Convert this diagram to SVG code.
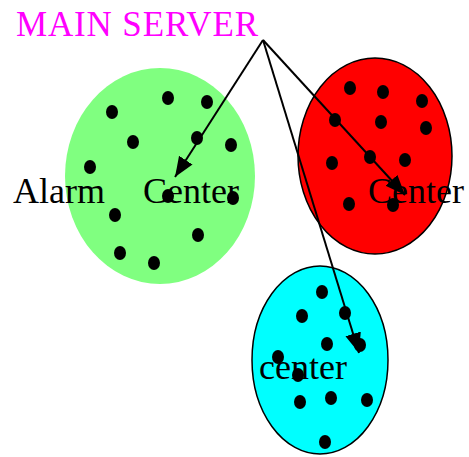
<svg xmlns="http://www.w3.org/2000/svg" width="469" height="457" viewBox="0 0 469 457">
  <style>
    .label { font-family: "Liberation Serif", "Times New Roman", serif; font-size: 36px; fill: #000; }
    .title { font-family: "Liberation Serif", "Times New Roman", serif; font-size: 35px; fill: #ff00ff; }
    .dot { fill: #000; }
    .link { stroke: #000; stroke-width: 2; fill: none; marker-end: url(#arrow); }
  </style>
  <defs>
    <marker id="arrow" markerUnits="userSpaceOnUse" markerWidth="22" markerHeight="18" refX="20" refY="8" orient="auto">
      <path d="M0,0 L20,8 L0,16 z" fill="#000"/>
    </marker>
    <ellipse id="d" class="dot" rx="6" ry="7"/>
  </defs>
  <rect width="469" height="457" fill="#fff"/>

  <g id="main-server">
    <text class="title" x="16" y="36" textLength="242" lengthAdjust="spacing">MAIN SERVER</text>
  </g>

  <g id="alarm-center">
    <ellipse cx="160" cy="176" rx="95" ry="108" fill="#80ff80"/>
    <text class="label" x="13" y="203">Alarm</text>
    <text class="label" x="143" y="203">Center</text>
    <use href="#d" x="112" y="112"/>
    <use href="#d" x="168" y="98"/>
    <use href="#d" x="207" y="102"/>
    <use href="#d" x="133" y="142"/>
    <use href="#d" x="197" y="138"/>
    <use href="#d" x="231" y="145"/>
    <use href="#d" x="90" y="167"/>
    <use href="#d" x="168" y="196"/>
    <use href="#d" x="233" y="198"/>
    <use href="#d" x="115" y="215"/>
    <use href="#d" x="198" y="235"/>
    <use href="#d" x="120" y="253"/>
    <use href="#d" x="154" y="263"/>
  </g>

  <g id="red-center">
    <ellipse cx="375" cy="156" rx="77" ry="98" fill="#ff0000" stroke="#000" stroke-width="1.5"/>
    <text class="label" x="368" y="203">Center</text>
    <use href="#d" x="350" y="88"/>
    <use href="#d" x="383" y="92"/>
    <use href="#d" x="422" y="101"/>
    <use href="#d" x="335" y="120"/>
    <use href="#d" x="381" y="122"/>
    <use href="#d" x="426" y="128"/>
    <use href="#d" x="332" y="163"/>
    <use href="#d" x="370" y="157"/>
    <use href="#d" x="405" y="160"/>
    <use href="#d" x="349" y="204"/>
    <use href="#d" x="393" y="205"/>
  </g>

  <g id="cyan-center">
    <ellipse cx="320" cy="360" rx="68" ry="94" fill="#00ffff" stroke="#000" stroke-width="1.5"/>
    <text class="label" x="259" y="379">center</text>
    <use href="#d" x="322" y="292"/>
    <use href="#d" x="302" y="316"/>
    <use href="#d" x="345" y="313"/>
    <use href="#d" x="327" y="344"/>
    <use href="#d" x="360" y="345"/>
    <use href="#d" x="278" y="357"/>
    <use href="#d" x="298" y="375"/>
    <use href="#d" x="300" y="402"/>
    <use href="#d" x="331" y="398"/>
    <use href="#d" x="367" y="400"/>
    <use href="#d" x="325" y="442"/>
  </g>

  <g id="connectors">
    <line class="link" x1="263" y1="40" x2="175" y2="177"/>
    <line class="link" x1="263" y1="40" x2="405" y2="195"/>
    <line class="link" x1="263" y1="40" x2="359" y2="353"/>
  </g>
</svg>
